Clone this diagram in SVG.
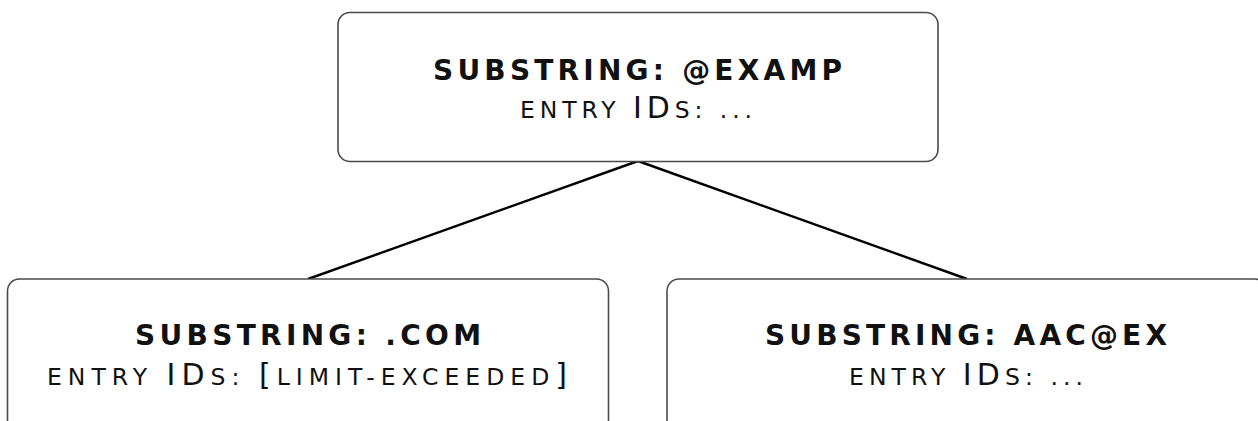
<svg xmlns="http://www.w3.org/2000/svg" width="1258" height="421" viewBox="0 0 1258 421">
<style>
.box{fill:#fff;stroke:#4a4a4a;stroke-width:1.6}
.edge{stroke:#000;stroke-width:2.4;fill:none}
.t1{font-family:"DejaVu Sans",Verdana,sans-serif;font-weight:bold;font-size:28px;fill:#111;text-anchor:middle}
.t2{font-family:"DejaVu Sans",Verdana,sans-serif;font-size:23.5px;fill:#111;text-anchor:middle}
.cap{font-size:30px}
</style>
<rect width="1258" height="421" fill="#fff"/>
<g id="connectors">
<line class="edge" x1="638" y1="161" x2="308" y2="279"/>
<line class="edge" x1="638" y1="161" x2="967" y2="279"/>
</g>
<g id="node-root">
<rect class="box" x="338" y="12.5" width="600" height="149" rx="12"/>
<text class="t1" x="637.5" y="80" textLength="409" lengthAdjust="spacing">SUBSTRING: @EXAMP</text>
<text class="t2" x="636" y="118" textLength="232" lengthAdjust="spacing">ENTRY <tspan class="cap">ID</tspan>S: ...</text>
</g>
<g id="node-left">
<rect class="box" x="7.5" y="279" width="601" height="170" rx="12"/>
<text class="t1" x="308" y="345" textLength="346" lengthAdjust="spacing">SUBSTRING: .COM</text>
<text class="t2" x="307" y="385" textLength="520" lengthAdjust="spacing">ENTRY <tspan class="cap">ID</tspan>S: <tspan class="cap">[</tspan>LIMIT-EXCEEDED<tspan class="cap">]</tspan></text>
</g>
<g id="node-right">
<rect class="box" x="667" y="279" width="600" height="170" rx="12"/>
<text class="t1" x="966" y="345" textLength="402" lengthAdjust="spacing">SUBSTRING: AAC@EX</text>
<text class="t2" x="966" y="385" textLength="234" lengthAdjust="spacing">ENTRY <tspan class="cap">ID</tspan>S: ...</text>
</g>
</svg>
